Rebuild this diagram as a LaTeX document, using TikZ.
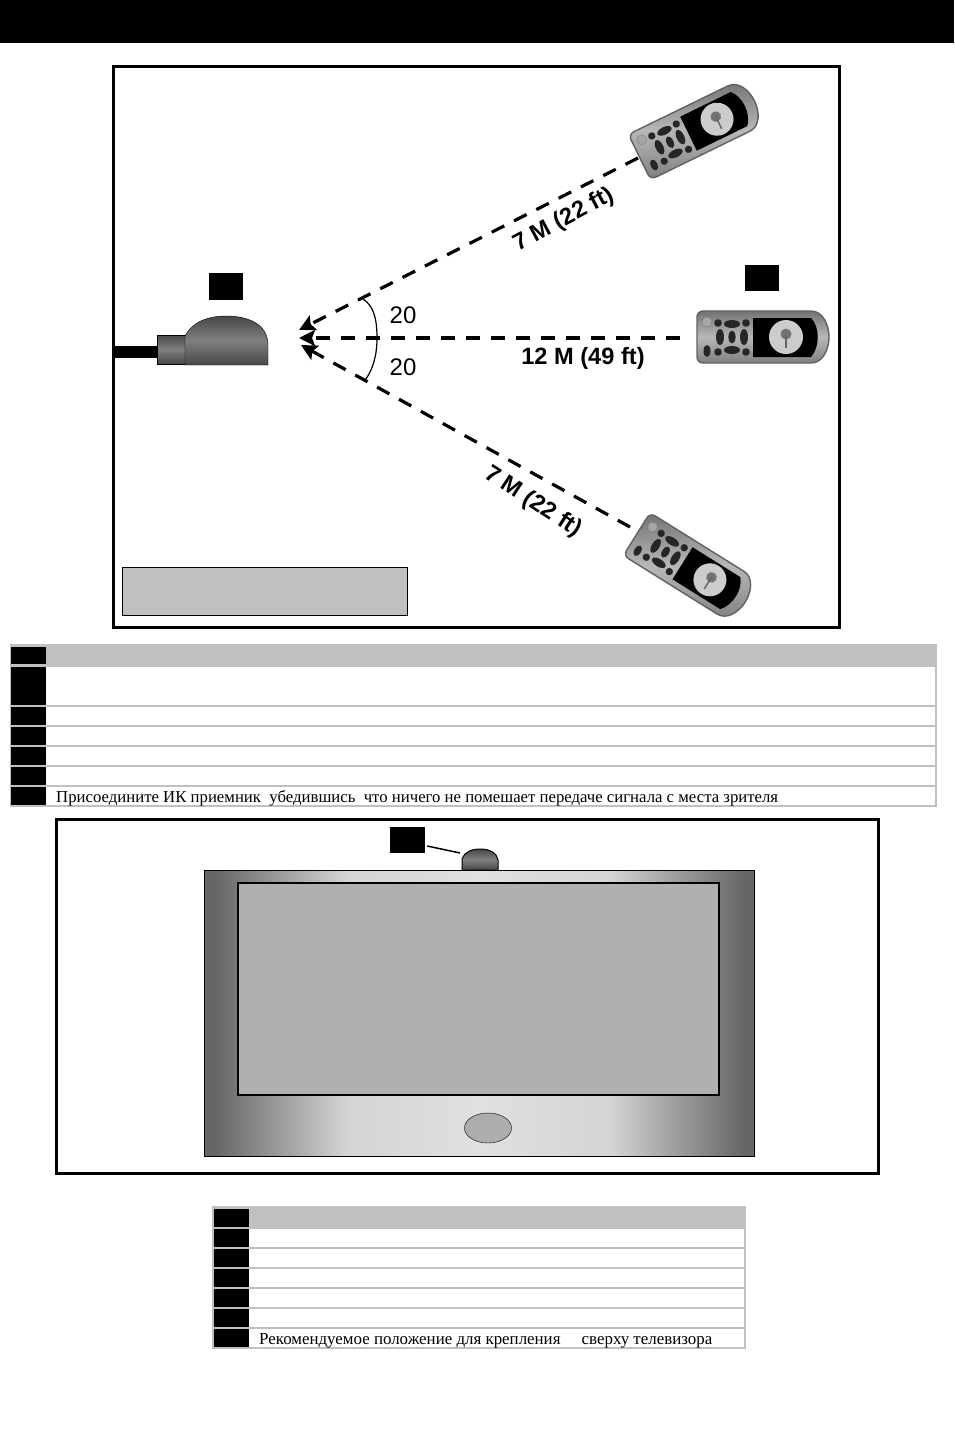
\documentclass[tikz,border=0pt]{standalone}
\usepackage{fontspec}
\setmainfont{Liberation Serif}
\newfontfamily\sansfont{Liberation Sans}
\usetikzlibrary{arrows.meta,shapes.geometric}
\definecolor{rulegray}{HTML}{C0C0C0}
\definecolor{screengray}{HTML}{B0B0B0}
\pgfdeclarehorizontalshading{tvshade}{100bp}{
  color(0bp)=(black!60); color(25bp)=(black!60); color(26bp)=(black!60);
  color(38bp)=(black!17); color(50bp)=(black!12); color(62bp)=(black!17);
  color(74bp)=(black!60); color(75bp)=(black!60); color(100bp)=(black!60)}
\tikzset{
  frame/.style={draw=black, line width=3pt, fill=white},
  blackcell/.style={fill=black, inner sep=0pt, minimum width=35pt},
  tag/.style={fill=black, inner sep=0pt, minimum width=34pt, minimum height=27pt},
  rowline/.style={draw=rulegray, line width=2pt},
  beam/.style={line width=3.2pt, dash pattern=on 14pt off 11pt, -{Stealth[length=16pt,width=16pt,inset=3pt]}},
  domeshade/.style={top color=black!72, bottom color=black!72, middle color=black!50},
  distlabel/.style={font=\sansfont\bfseries\fontsize{23.6}{27}\selectfont, inner sep=0pt},
  anglelabel/.style={font=\sansfont\fontsize{24}{28}\selectfont, inner sep=0pt},
  rowtext/.style={font=\fontsize{16.75}{20}\selectfont, inner sep=0pt, anchor=base west},
  remote/.pic={
    \shade[draw=black!62, line width=1.4pt, top color=black!55, bottom color=black!50, middle color=black!28]
      (-66,-26) [rounded corners=6pt] -- (-66,26) [sharp corners] -- (48,26)
      .. controls (60,26) and (66,12) .. (66,0) .. controls (66,-12) and (60,-26) .. (48,-26)
      [rounded corners=6pt] -- cycle;
    \fill[black] (-10,-19) -- (48,-19) .. controls (57,-10) and (57,10) .. (48,20) -- (-10,20) -- cycle;
    \fill[black!20] (23,0) circle (17);
    \fill[black!55] (23,-3) circle (5.5);
    \draw[black!60, line width=1.5pt] (23,-3) -- (23,11);
    \fill[black!35, draw=black!50] (-56,-15) circle (5);
    \foreach \bx/\by in {-45/-14, -17/-14, -45/15, -17/15}
      \fill[black!85] (\bx,\by) circle (3.8);
    \fill[black!85] (-56,14) ellipse (3.5 and 6);
    \foreach \bx/\by/\rx/\ry in {-31/-13/8/4, -31/13/8/4, -43/0/4/8, -19/0/4/8, -31/0/3.6/6.5}
      \fill[black!85] (\bx,\by) ellipse (\rx pt and \ry pt);
  }
}
\begin{document}
\begin{tikzpicture}[x=1pt, y=-1pt]
  \useasboundingbox (0,0) rectangle (954,1430);
  \fill[black] (0,0) rectangle (954,43);

  % range diagram
  \draw[frame] (113.5,66) rectangle (839.5,627.5);
  \fill[black] (115,346) rectangle (158,358);
  \shade[draw=black, domeshade] (157,335) rectangle (185,364);
  \shade[draw=black, domeshade] (185,365) -- (185,336) .. controls (192,322) and (208,316) .. (226,316)
    .. controls (248,316) and (268,324) .. (268,345) -- (268,365) -- cycle;
  \node (tagReceiver) [tag] at (226,286.5) {};
  \node (tagRemote) [tag, minimum height=26pt] at (762,278) {};

  \pic[rotate=26, scale=.97] at (697,129) {remote};
  \pic at (763,337) {remote};
  \pic[rotate=-32, scale=.97] at (691,568) {remote};

  \coordinate (eyeUp) at (299,330);
  \coordinate (eyeMid) at (299,338);
  \coordinate (eyeDown) at (301,345);
  \coordinate (remoteUp) at (638,158);
  \coordinate (remoteMid) at (680,338);
  \coordinate (remoteDown) at (630,527);
  \draw[beam] (remoteUp) -- (eyeUp);
  \draw[beam] (remoteMid) -- (eyeMid);
  \draw[beam] (remoteDown) -- (eyeDown);

  \coordinate (arcTop) at (363,299);
  \coordinate (arcBottom) at (365,380);
  \draw[line width=1.2pt] (arcTop) .. controls (372,305) and (377,315) .. (377,338)
    .. controls (377,355) and (373,370) .. (arcBottom);
  \node (angleUp) [anglelabel] at (403,315) {20};
  \node (angleDown) [anglelabel] at (403,367) {20};

  \node (distUp) [distlabel, rotate=28] at (564,220) {7 М (22 ft)};
  \node (distMid) [distlabel] at (583,358.5) {12 М (49 ft)};
  \node (distDown) [distlabel, rotate=-33] at (533,502) {7 М (22 ft)};

  \node (noteBox) [draw=black, fill=rulegray, inner sep=0pt, minimum width=285.5pt, minimum height=48.5pt] at (264.7,591.3) {};

  % first table
  \fill[rulegray] (10,644) rectangle (937,667);
  \draw[rowline] (11,644) -- (11,807);
  \draw[rowline] (936,644) -- (936,807);
  \foreach \rowy in {706,726,746,766,786,806}
    \draw[rowline] (10,\rowy) -- (937,\rowy);
  \foreach \i/\cy/\hgt in {0/655.5/17, 1/686/38, 2/716/18, 3/736/18, 4/756/18, 5/776/18, 6/796/18}
    \node (cellA\i) [blackcell, minimum height=\hgt pt] at (28.5,\cy) {};
  \node (textA) [rowtext] at (56,802) {Присоедините ИК приемник\ \ убедившись\ \ что ничего не помешает передаче сигнала с места зрителя};

  % television
  \draw[frame] (56.5,819) rectangle (878.5,1173);
  \shade[shading=tvshade, draw=black] (204,870) rectangle (754,1156);
  \draw[black, fill=screengray, line width=1.5pt] (238,883) rectangle (719,1095);
  \node (tvEye) [draw=black, fill=black!32, ellipse, inner sep=0pt, minimum width=47pt, minimum height=30pt] at (488,1128) {};
  \shade[draw=black, line width=1pt, domeshade] (462,870) -- (462,859) .. controls (464,852) and (472,849) .. (480,849)
    .. controls (490,849) and (497,853) .. (498,860) -- (498,870) -- cycle;
  \node (tagTop) [tag, minimum width=35pt, minimum height=26pt] at (407.5,840) {};
  \coordinate (tagTopEnd) at (460,853);
  \draw[line width=1.5pt] (tagTop.east |- 0,846) ++(2,0) -- (tagTopEnd);

  % second table
  \fill[rulegray] (212,1206) rectangle (746,1228);
  \draw[rowline] (213,1206) -- (213,1349);
  \draw[rowline] (745,1206) -- (745,1349);
  \foreach \rowy in {1228,1248,1268,1288,1308,1328,1348}
    \draw[rowline] (212,\rowy) -- (746,\rowy);
  \foreach \i/\cy in {0/1218,1/1238,2/1258,3/1278,4/1298,5/1318,6/1338}
    \node (cellB\i) [blackcell, minimum height=18pt] at (231.5,\cy) {};
  \node (textB) [rowtext, font=\fontsize{16.9}{20}\selectfont] at (259,1344) {Рекомендуемое положение для крепления\ \ \ \ \ сверху телевизора};
\end{tikzpicture}
\end{document}
